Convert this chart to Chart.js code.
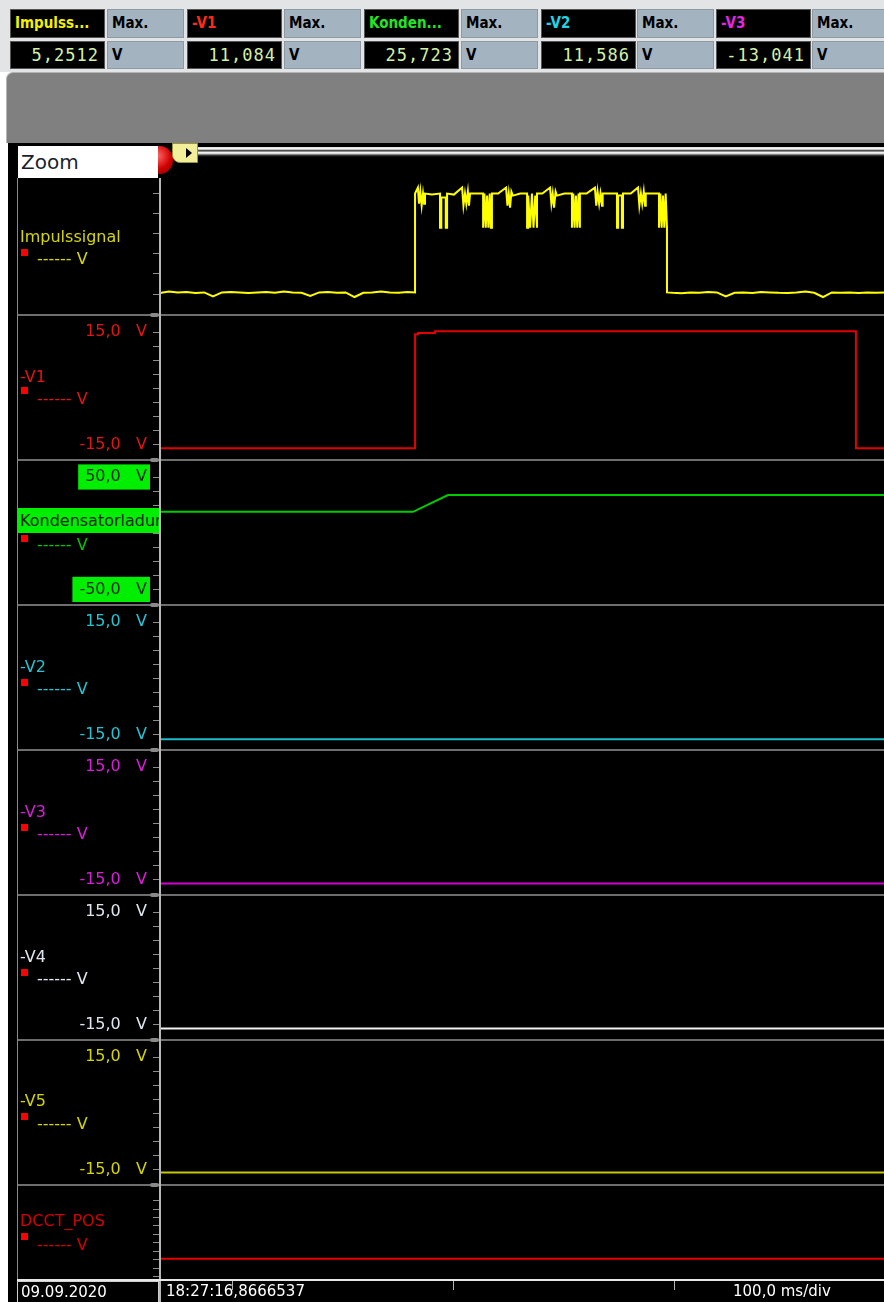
<!DOCTYPE html>
<html>
<head>
<meta charset="utf-8">
<title>Impulssignal</title>
<script src="https://cdn.jsdelivr.net/npm/chart.js@4.4.1/dist/chart.umd.min.js"></script>
<style>
  html, body { margin: 0; padding: 0; }
  body { width: 884px; height: 1302px; position: relative; overflow: hidden; background: #fff; font-family: "DejaVu Sans", sans-serif; }
  .abs { position: absolute; }
  #top { left: 0; top: 0; width: 884px; height: 72px; background: #e2e4e6; }
  .cell { position: absolute; box-sizing: border-box; border: 1px solid #555; white-space: nowrap; overflow: hidden; }
  .name { background: #000; font: bold 15px "DejaVu Sans Condensed", "Liberation Sans Narrow", "DejaVu Sans", sans-serif; line-height: 26px; padding-left: 4px; }
  .max { background: #a3b3bf; color: #000; font: bold 15px "DejaVu Sans Condensed", "Liberation Sans Narrow", "DejaVu Sans", sans-serif; line-height: 26px; padding-left: 4px; border-color: #8d9aa4; }
  .lcd { background: #000; color: #d4f0a6; text-align: right; padding-right: 5px; font: 17px "DejaVu Sans Mono", monospace; line-height: 26px; letter-spacing: 1px; }
  #gray { left: 6px; top: 72px; width: 878px; height: 71px; background: #808080; border-top: 1px solid #b4b4b4; border-left: 1px solid #b4b4b4; border-top-left-radius: 7px; box-sizing: border-box; }
  #scope { left: 8px; top: 143px; width: 876px; height: 1159px; background: #000; }
  #zoombox { left: 18px; top: 146px; width: 140px; height: 32px; background: #fff; color: #1a1f2e; font: 20px "DejaVu Sans", sans-serif; line-height: 32px; padding-left: 3px; box-sizing: border-box; }
  #redbtn { left: 147px; top: 146px; width: 26px; height: 28px; border-radius: 50%; background: radial-gradient(circle at 40% 35%, #ff6a6a, #d00000 55%, #800000); }
  #tab { left: 172px; top: 143px; width: 26px; height: 20px; background: #f2ee9a; border: 1px solid #9a9440; border-bottom-left-radius: 8px; box-sizing: border-box; }
  #tab:after { content: ""; position: absolute; left: 13px; top: 4px; border-left: 6px solid #000; border-top: 5px solid transparent; border-bottom: 5px solid transparent; }
  #scroll { left: 198px; top: 147px; width: 686px; height: 10px; background: linear-gradient(#d8d8d8 0, #fff 2px, #808080 3px, #202020 4px, #fff 5px, #c8c8c8 7px, #404040 8px, #000 10px); }
  canvas { position: absolute; left: 17px; background: transparent; }
  .sep { position: absolute; left: 17px; width: 867px; height: 2px; background: #6e6e6e; }
  .knob { position: absolute; left: 150px; width: 9px; height: 4px; background: #8a8a8a; border-radius: 2px; }
  .lbl { position: absolute; left: 20px; font: 16px "DejaVu Sans", sans-serif; white-space: nowrap; line-height: 18px; }
  .sq { position: absolute; left: 21px; width: 7px; height: 7px; background: #ff0000; }
  .dash { position: absolute; left: 37px; font: 16px "DejaVu Sans", sans-serif; white-space: nowrap; line-height: 18px; }
  #vaxis { left: 159px; top: 178px; width: 2px; height: 1124px; background: #b8b8b8; }
  #lframe { left: 17px; top: 178px; width: 1px; height: 1124px; background: #8a8a8a; }
  #datebox { left: 17px; top: 1281px; width: 142px; height: 21px; border: 1px solid #cfcfcf; border-bottom: none; box-sizing: border-box; color: #fff; font: 15px "DejaVu Sans", sans-serif; line-height: 21px; padding-left: 3px; }
  .bartxt { position: absolute; top: 1281px; color: #fff; font: 15px "DejaVu Sans", sans-serif; line-height: 21px; white-space: nowrap; }
  #barline { left: 17px; top: 1279px; width: 144px; height: 2px; background: #e8e8e8; }
</style>
</head>
<body>
<div id="top" class="abs"></div>
<div id="gray" class="abs"></div>
<div id="scope" class="abs"></div>
<div id="scroll" class="abs"></div>
<div id="redbtn" class="abs"></div>
<div id="tab" class="abs"></div>
<div id="zoombox" class="abs">Zoom</div>

<script>
// ---- data ----------------------------------------------------------
// time in ms from the left edge of the plot, 100 ms per division
const tMax = 327.6;
const divTicks = [33, 133, 233];

// header readouts
const hdrNames = ['Impulss...', '-V1', 'Konden...', '-V2', '-V3'];
const hdrColors = ['#f4f000', '#ff2a1a', '#22e622', '#22d4e6', '#e624e6'];
const hdrValues = ['5,2512', '11,084', '25,723', '11,586', '-13,041'];

// Impulssignal (V)
const impT = [0, 4, 8, 12, 16, 20, 24, 28, 32, 36, 40, 44, 48, 52, 56, 60, 64, 68, 72, 76, 80, 84, 88, 92, 96, 100, 104, 108, 112, 115.4,
  115.4, 116.7, 117.2, 117.8, 118.4, 119.0, 119.5, 119.9, 123.0, 126.7,
  126.7, 127.3, 127.3, 129.3, 129.3, 129.9, 129.9, 133.0, 136.7,
  137.3, 138.0, 138.6, 139.3, 139.8, 140.3, 143.0, 146.2,
  146.2, 146.8, 147.4, 148.0, 148.6, 149.2, 149.7, 150.2, 150.2, 153.0, 156.6,
  157.2, 157.8, 158.4, 159.0, 159.7, 163.0, 166.1,
  166.1, 166.6, 166.6, 167.5, 168.3, 169.0, 169.8, 170.6, 170.6, 173.0, 176.5,
  177.1, 177.7, 178.3, 179.0, 179.6, 183.0, 186.4,
  186.4, 187.0, 187.6, 188.2, 188.8, 189.4, 190.0, 190.0, 193.0, 196.8,
  197.4, 198.0, 198.7, 199.3, 200.0, 200.3, 203.0, 206.8,
  206.8, 207.3, 207.3, 209.0, 209.0, 209.5, 209.5, 213.0, 216.3,
  216.9, 217.6, 218.2, 218.9, 219.5, 219.8, 223.0, 225.8,
  225.8, 226.4, 227.0, 227.6, 228.2, 228.8, 229.4, 229.4,
  232, 236, 240, 244, 248, 252, 256, 260, 264, 268, 272, 276, 280, 284, 288, 292, 296, 300, 304, 308, 312, 316, 320, 324, 327.6];
const impV = [0.05, 0.12, 0.08, 0.1, 0.05, 0.08, -0.12, 0.08, 0.1, 0.08, 0.05, 0.08, 0.1, 0.06, 0.12, 0.08, 0.06, -0.1, 0.08, 0.1, 0.06, 0.08, -0.15, 0.06, 0.08, 0.12, 0.08, 0.06, 0.1, 0.08,
  5.0, 5.3, 4.5, 5.1, 4.4, 5.0, 4.5, 5.0, 4.95, 5.0,
  3.3, 3.3, 4.8, 4.8, 3.3, 3.3, 5.0, 4.95, 5.3,
  4.4, 5.0, 4.5, 5.1, 4.4, 5.0, 5.0, 5.0,
  3.3, 5.0, 3.3, 4.9, 3.3, 5.0, 3.3, 3.3, 5.0, 5.0, 5.3,
  4.4, 5.0, 4.3, 5.1, 4.9, 5.0, 5.0,
  3.3, 3.3, 4.9, 3.3, 5.0, 3.3, 4.9, 3.3, 5.0, 5.0, 5.3,
  4.5, 5.0, 4.3, 5.1, 4.9, 5.0, 5.0,
  3.3, 5.0, 3.3, 4.9, 3.3, 5.0, 3.3, 5.0, 5.0, 5.3,
  4.4, 5.1, 4.5, 5.0, 4.4, 5.0, 5.0, 5.0,
  3.3, 3.3, 4.9, 4.9, 3.3, 3.3, 5.0, 5.0, 5.3,
  4.4, 5.0, 4.5, 5.1, 4.4, 5.0, 5.0, 5.0,
  3.3, 5.0, 3.3, 4.9, 3.3, 5.0, 3.3, 0.08,
  0.06, 0.04, 0.08, 0.06, 0.1, 0.08, -0.12, 0.06, 0.08, 0.05, 0.1, 0.08, 0.06, 0.05, 0.08, 0.12, 0.06, -0.15, 0.08, 0.06, 0.08, 0.05, 0.08, 0.06, 0.08];

// -V1 (V)
const v1T = [0, 115.4, 115.4, 116.7, 116.7, 124.4, 124.4, 314.9, 314.9, 327.6];
const v1V = [-16.0, -16.0, 14.4, 14.4, 14.7, 14.7, 15.2, 15.2, -16.0, -16.0];

// Kondensatorladung (V)
const konT = [0, 114.5, 130.3, 327.6];
const konV = [19.0, 19.0, 34.0, 34.0];

// -V2 .. -V5 (V)
const v2T = [0, 327.6];
const v2V = [-16.3, -16.3];
const v3T = [0, 327.6];
const v3V = [-16.1, -16.1];
const v4T = [0, 327.6];
const v4V = [-16.1, -16.1];
const v5T = [0, 327.6];
const v5V = [-15.8, -15.8];

// DCCT_POS
const dcctT = [0, 327.6];
const dcctV = [2.1, 2.1];

// y ticks
const impTicks = [0, 1, 2, 3, 4, 5];
const yTicks15 = [-15, -11.25, -7.5, -3.75, 0, 3.75, 7.5, 11.25, 15];
const yTicks50 = [-50, -37.5, -25, -12.5, 0, 12.5, 25, 37.5, 50];
const dcctTicks = [0, 1, 2, 3, 4, 5, 6, 7, 8, 9];

// ---- header --------------------------------------------------------
const nameLeft = [10, 187, 364, 541, 716];
const maxLeft = [107, 284, 461, 637, 812];
function cell(cls, x, y, w, h, text, color) {
  const d = document.createElement('div');
  d.className = 'cell ' + cls;
  d.style.left = x + 'px'; d.style.top = y + 'px';
  d.style.width = w + 'px'; d.style.height = h + 'px';
  d.textContent = text;
  if (color) d.style.color = color;
  document.body.appendChild(d);
}
hdrNames.forEach((n, i) => {
  cell('name', nameLeft[i], 9, 95, 29, n, hdrColors[i]);
  cell('max', maxLeft[i], 9, 77, 29, 'Max.');
  cell('lcd', nameLeft[i], 41, 95, 28, hdrValues[i]);
  cell('max', maxLeft[i], 41, 77, 28, 'V');
});

// ---- panels --------------------------------------------------------
const fontTick = { family: 'DejaVu Sans', size: 16 };
const panels = [
  { name: 'Impulssignal', t: impT, v: impV, line: '#ffff00', txt: '#d6d600', top: 178, h: 137, padT: 14, padB: 21, min: 0, max: 5, ticks: impTicks, lbl: 'none', nameY: 228, sqY: 249, dashY: 250 },
  { name: '-V1', t: v1T, v: v1V, line: '#e40000', txt: '#e41414', top: 315, h: 145, padT: 17, padB: 15, min: -15, max: 15, ticks: yTicks15, lbl: '15', nameY: 368, sqY: 387, dashY: 390 },
  { name: 'Kondensatorladung', t: konT, v: konV, line: '#00cc00', txt: '#00c800', top: 460, h: 145, padT: 17, padB: 15, min: -50, max: 50, ticks: yTicks50, lbl: '50', nameY: 508, sqY: 535, dashY: 536, boxed: true },
  { name: '-V2', t: v2T, v: v2V, line: '#1cbccc', txt: '#24c4d4', top: 605, h: 145, padT: 17, padB: 15, min: -15, max: 15, ticks: yTicks15, lbl: '15', nameY: 658, sqY: 679, dashY: 680 },
  { name: '-V3', t: v3T, v: v3V, line: '#d400d4', txt: '#dc1cdc', top: 750, h: 145, padT: 17, padB: 15, min: -15, max: 15, ticks: yTicks15, lbl: '15', nameY: 803, sqY: 824, dashY: 825 },
  { name: '-V4', t: v4T, v: v4V, line: '#f2f2f2', txt: '#dfe6f0', top: 895, h: 145, padT: 17, padB: 15, min: -15, max: 15, ticks: yTicks15, lbl: '15', nameY: 948, sqY: 969, dashY: 970 },
  { name: '-V5', t: v5T, v: v5V, line: '#c8c800', txt: '#d4d400', top: 1040, h: 145, padT: 17, padB: 15, min: -15, max: 15, ticks: yTicks15, lbl: '15', nameY: 1092, sqY: 1113, dashY: 1115 },
  { name: 'DCCT_POS', t: dcctT, v: dcctV, line: '#e60000', txt: '#d40000', top: 1185, h: 117, padT: 5, padB: 0, min: -0.42, max: 9, ticks: dcctTicks, lbl: 'none', nameY: 1212, sqY: 1233, dashY: 1236, xAxis: true }
];

function tickLabel(p) {
  return (value, i, arr) => {
    if (p.lbl === 'none') return '';
    if (i === 0) return '-' + p.lbl + ',0   V';
    if (i === arr.length - 1) return p.lbl + ',0   V';
    return '';
  };
}

panels.forEach(p => {
  const c = document.createElement('canvas');
  c.width = 867; c.height = p.h;
  c.style.top = p.top + 'px';
  document.body.appendChild(c);

  const last = p.ticks.length - 1;
  new Chart(c, {
    type: 'line',
    data: {
      datasets: [{
        data: p.t.map((x, i) => ({ x: x, y: p.v[i] })),
        borderColor: p.line,
        borderWidth: 2,
        pointRadius: 0,
        tension: 0,
        clip: false
      }]
    },
    options: {
      responsive: false,
      animation: false,
      events: [],
      layout: { padding: { top: p.padT, bottom: p.padB, left: 0, right: 0 } },
      plugins: { legend: { display: false }, tooltip: { enabled: false } },
      scales: {
        x: {
          type: 'linear',
          min: 0,
          max: tMax,
          display: !!p.xAxis,
          afterBuildTicks: s => { s.ticks = divTicks.map(v => ({ value: v })); },
          afterFit: p.xAxis ? s => { s.height = 22; } : undefined,
          grid: { drawOnChartArea: false, tickLength: 10, color: '#b4b4b4', lineWidth: 1 },
          border: { color: '#e8e8e8', width: 2 },
          ticks: { callback: () => '', font: { size: 1 }, padding: 0 }
        },
        y: {
          min: p.min,
          max: p.max,
          afterFit: s => { s.width = 143; },
          afterBuildTicks: s => { s.ticks = p.ticks.map(v => ({ value: v })); },
          grid: { drawOnChartArea: false, tickLength: 7, color: '#8c8c8c', lineWidth: 1 },
          border: { display: false },
          ticks: {
            color: p.boxed ? '#0b2a0b' : p.txt,
            font: fontTick,
            padding: 6,
            autoSkip: false,
            callback: tickLabel(p),
            showLabelBackdrop: !!p.boxed,
            backdropColor: ctx => (ctx.index === 0 || ctx.index === last) ? '#00ee00' : 'rgba(0,0,0,0)',
            backdropPadding: { top: 3, bottom: 3, left: 7, right: 3 }
          }
        }
      }
    }
  });

  // channel label on the left
  const n = document.createElement('div');
  n.className = 'lbl';
  n.style.top = p.nameY + 'px';
  n.textContent = p.name;
  if (p.boxed) {
    n.style.left = '18px'; n.style.width = '141px'; n.style.overflow = 'hidden';
    n.style.background = '#00ee00'; n.style.color = '#0b2a0b';
    n.style.lineHeight = '25px'; n.style.paddingLeft = '2px'; n.style.boxSizing = 'border-box';
  } else {
    n.style.color = p.txt;
  }
  document.body.appendChild(n);

  const sq = document.createElement('div');
  sq.className = 'sq';
  sq.style.top = p.sqY + 'px';
  document.body.appendChild(sq);

  const d = document.createElement('div');
  d.className = 'dash';
  d.style.top = p.dashY + 'px';
  d.style.color = p.txt;
  d.textContent = '------ V';
  document.body.appendChild(d);

  if (p.top > 178) {
    const s = document.createElement('div');
    s.className = 'sep';
    s.style.top = (p.top - 1) + 'px';
    document.body.appendChild(s);
    const k = document.createElement('div');
    k.className = 'knob';
    k.style.top = (p.top - 2) + 'px';
    document.body.appendChild(k);
  }
});

// frame lines and bottom bar
['vaxis', 'lframe', 'barline', 'datebox'].forEach(id => {
  const e = document.createElement('div');
  e.id = id; e.className = 'abs';
  if (id === 'datebox') e.textContent = '09.09.2020';
  document.body.appendChild(e);
});
[['18:27:16,8666537', 166], ['100,0 ms/div', 733]].forEach(([txt, x]) => {
  const e = document.createElement('div');
  e.className = 'bartxt';
  e.style.left = x + 'px';
  e.textContent = txt;
  document.body.appendChild(e);
});
</script>
</body>
</html>
